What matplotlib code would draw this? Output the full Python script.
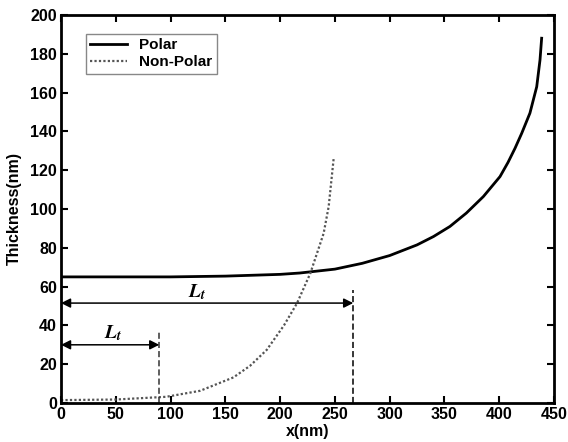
import matplotlib
matplotlib.use("Agg")
import matplotlib.pyplot as plt

plt.rcParams['font.family'] = ['Liberation Sans', 'DejaVu Sans']
plt.rcParams['font.weight'] = 'bold'
plt.rcParams['mathtext.fontset'] = 'stix'

# values
polar_x = [0, 50, 100, 150, 200, 218, 250, 275, 300, 325, 340, 355, 370, 385.5,
           400.7, 408, 414.4, 420.5, 428, 434.2, 437.2, 438.7]
polar_y = [65, 65, 65, 65.4, 66.3, 67, 69, 72, 76, 81.5, 85.8, 91, 97.9, 106.4,
           116.7, 124, 131.3, 139, 149.4, 163, 176.8, 188]

nonpolar_x = [0, 50, 96, 127, 157.4, 172.6, 187.8, 203.5, 215.4, 227.6, 239.7, 244.3, 248.9]
nonpolar_y = [1.5, 1.8, 3.2, 6.3, 13.2, 19.2, 27.4, 40, 51.4, 66.9, 87.4, 101.2, 126.2]

lt_short = 89.7
lt_long = 266.7

fig = plt.figure(figsize=(5.68, 4.42), dpi=100)
ax = fig.add_axes([0.1074, 0.0882, 0.868, 0.878])

ax.plot(polar_x, polar_y, color='black', lw=2, label='Polar')
ax.plot(nonpolar_x, nonpolar_y, color='#555555', lw=1.6, ls=(0, (1, 1)), label='Non-Polar')

# dashed markers for the two lengths
ax.plot([lt_short, lt_short], [0, 37], color='#333333', lw=1.1, ls=(0, (4, 2)))
ax.plot([lt_long, lt_long], [0, 58], color='black', lw=1.1, ls=(0, (4, 2)))

arrow = dict(arrowstyle='<|-|>', color='black', lw=1.1, mutation_scale=14,
             shrinkA=0, shrinkB=0)
ax.annotate('', xy=(0, 30), xytext=(lt_short, 30), arrowprops=arrow)
ax.annotate('', xy=(0, 51.5), xytext=(lt_long, 51.5), arrowprops=arrow)
ax.text(47.6, 36, r'$L_t$', fontsize=14, ha='center', va='center')
ax.text(124, 57, r'$L_t$', fontsize=14, ha='center', va='center')

ax.set_xlim(0, 450)
ax.set_ylim(0, 200)
ax.set_xticks(range(0, 451, 50))
ax.set_yticks(range(0, 201, 20))
ax.tick_params(direction='in', top=True, right=True, length=5, width=1.5,
               labelsize=11.5, pad=3)
for lab in ax.get_xticklabels() + ax.get_yticklabels():
    lab.set_fontweight('bold')
for sp in ax.spines.values():
    sp.set_linewidth(2)

ax.set_xlabel('x(nm)', fontsize=11.5, fontweight='bold', labelpad=1)
ax.set_ylabel('Thickness(nm)', fontsize=11.5, fontweight='bold', labelpad=6)

leg = ax.legend(loc='upper left', bbox_to_anchor=(0.05, 0.952), fontsize=11,
                fancybox=False, edgecolor='#888888', framealpha=1,
                handlelength=2.4, borderpad=0.3, labelspacing=0.2, borderaxespad=0)
leg.get_frame().set_linewidth(1)
for t in leg.get_texts():
    t.set_fontweight('bold')

fig.savefig('out.png', dpi=100)
